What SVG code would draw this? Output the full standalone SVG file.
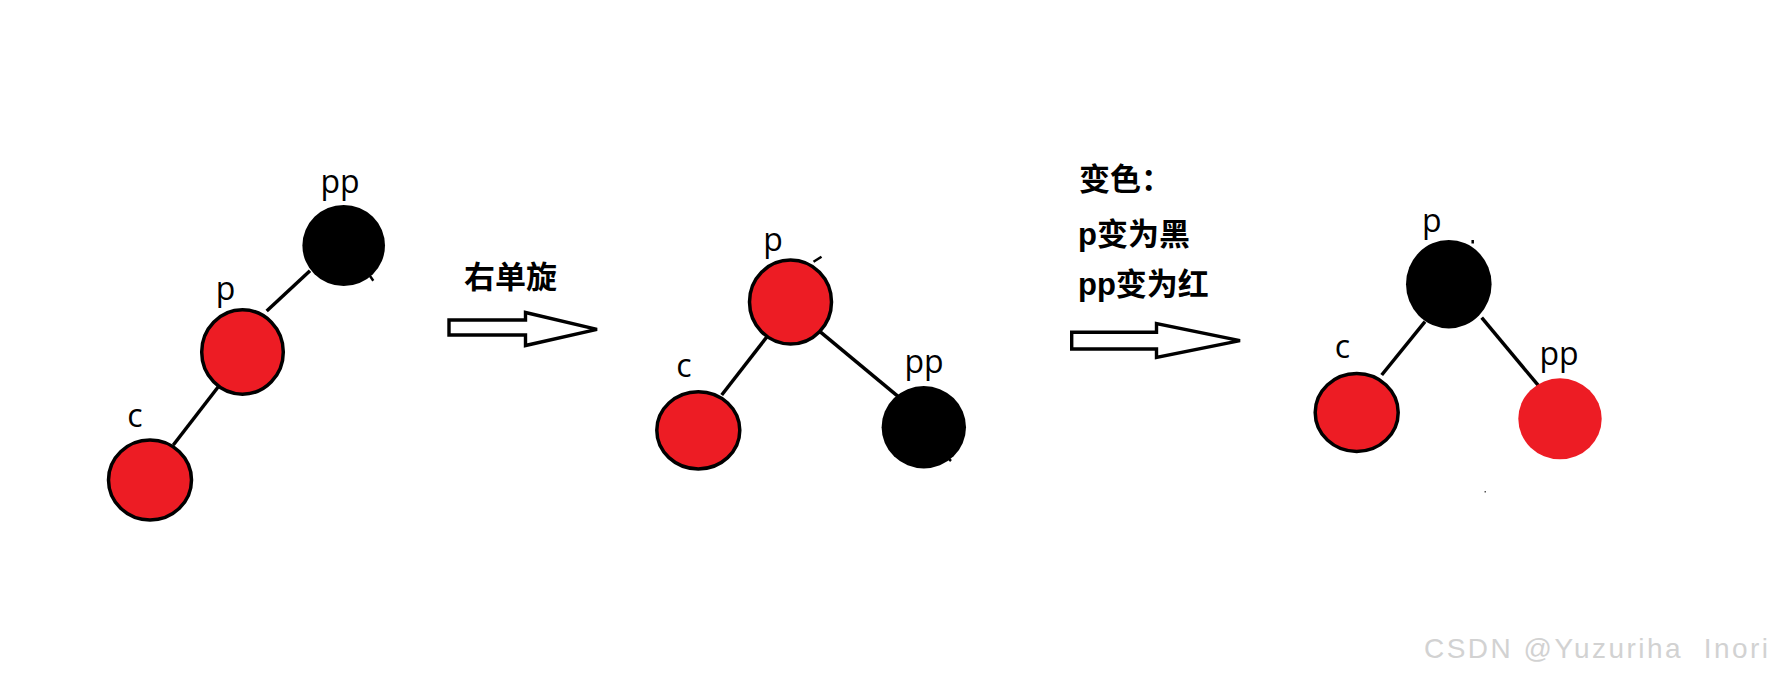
<svg xmlns="http://www.w3.org/2000/svg" width="1772" height="678" viewBox="0 0 1772 678">
  <style>
    .red { fill: #ED1C24; stroke: #000; stroke-width: 3.5; }
    .redns { fill: #ED1C24; stroke: none; }
    .blk { fill: #000; stroke: none; }
    .lbl { font-family: "Open Sans", "Liberation Sans", sans-serif; font-size: 32px; fill: #000; text-anchor: middle; }
    .cn { font-family: "Liberation Sans", "Noto Sans CJK SC", sans-serif; font-size: 31px; font-weight: bold; fill: #000; }
    .edge { stroke: #000; stroke-width: 3.5; fill: none; }
    .arrow { fill: #fff; stroke: #000; stroke-width: 3.4; stroke-linejoin: miter; }
    .mark { stroke: #000; stroke-width: 2.5; fill: none; }
    .wm { font-family: "Liberation Sans", Arial, sans-serif; font-size: 28px; fill: #d2d2d2; white-space: pre; }
  </style>
  <rect width="1772" height="678" fill="#fff"/>

  <g id="connectors">
    <line class="edge" x1="310" y1="270.7" x2="266.7" y2="311"/>
    <line class="edge" x1="221" y1="383.3" x2="173.3" y2="445"/>
    <line class="edge" x1="768.3" y1="335" x2="721.7" y2="395"/>
    <line class="edge" x1="820" y1="331.7" x2="898.3" y2="396.7"/>
    <line class="edge" x1="1425" y1="321.7" x2="1381.7" y2="375"/>
    <line class="edge" x1="1481.7" y1="317.7" x2="1539.3" y2="386.7"/>
  </g>

  <!-- Tree 1 -->
  <g id="t1-pp">
    <ellipse class="blk" cx="343.7" cy="245.5" rx="41.3" ry="40.5"/>
    <text class="lbl" x="340" y="193">pp</text>
  </g>
  <g id="t1-p">
    <ellipse class="red" cx="242.5" cy="352" rx="40.8" ry="42.2"/>
    <text class="lbl" x="225.5" y="300">p</text>
  </g>
  <g id="t1-c">
    <ellipse class="red" cx="150" cy="480" rx="41.5" ry="40"/>
    <text class="lbl" x="135" y="427">c</text>
  </g>

  <!-- Arrow 1 -->
  <g id="rotate-arrow">
    <text class="cn" x="464" y="288">右单旋</text>
    <polygon class="arrow" points="449,320 525.5,320 525.5,312.5 597,329.3 525.5,345.5 525.5,335 449,335"/>
  </g>

  <!-- Tree 2 -->
  <g id="t2-p">
    <ellipse class="red" cx="790.5" cy="302" rx="41" ry="42"/>
    <text class="lbl" x="773" y="250.5">p</text>
  </g>
  <g id="t2-c">
    <ellipse class="red" cx="698.3" cy="430.3" rx="41.5" ry="38.6"/>
    <text class="lbl" x="684" y="376.7">c</text>
  </g>
  <g id="t2-pp">
    <ellipse class="blk" cx="923.8" cy="427.2" rx="42.2" ry="41.2"/>
    <text class="lbl" x="924" y="373.3">pp</text>
  </g>

  <!-- Arrow 2 -->
  <g id="recolor-arrow">
    <text class="cn" x="1079" y="189.5">变色：</text>
    <text class="cn" x="1078" y="244.5">p变为黑</text>
    <text class="cn" x="1078" y="294.5">pp变为红</text>
    <polygon class="arrow" points="1071.7,332.3 1156.5,332.3 1156.5,323.5 1240,340.7 1156.5,357.5 1156.5,349 1071.7,349"/>
  </g>

  <!-- Tree 3 -->
  <g id="t3-p">
    <ellipse class="blk" cx="1448.8" cy="284.2" rx="42.8" ry="44.2"/>
    <text class="lbl" x="1431.7" y="231.7">p</text>
  </g>
  <g id="t3-c">
    <ellipse class="red" cx="1356.7" cy="412.5" rx="41.5" ry="39"/>
    <text class="lbl" x="1342.5" y="358.3">c</text>
  </g>
  <g id="t3-pp">
    <ellipse class="redns" cx="1560" cy="418.8" rx="41.7" ry="40.5"/>
    <text class="lbl" x="1559" y="365">pp</text>
  </g>

  <!-- small stray marks -->
  <g id="marks">
    <line class="mark" x1="370" y1="276" x2="373.3" y2="280.7"/>
    <line class="mark" x1="813.5" y1="261.7" x2="821.5" y2="256.7"/>
    <line class="mark" x1="948" y1="458" x2="951" y2="461"/>
    <line class="mark" x1="1472.7" y1="240" x2="1472.7" y2="243.5"/>
    <rect x="1484.5" y="491" width="1.5" height="1.5" fill="#555"/>
  </g>

  <text class="wm" x="1424" y="658" xml:space="preserve" textLength="344" lengthAdjust="spacing">CSDN @Yuzuriha  Inori</text>
</svg>
